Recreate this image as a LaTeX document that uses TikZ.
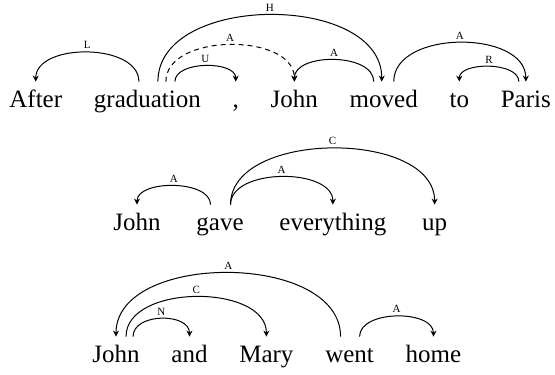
\documentclass[tikz,border=0pt]{standalone}
\usepackage{fontspec}
\setmainfont{Liberation Serif}
\usetikzlibrary{positioning, arrows.meta}

\begin{document}
\begin{tikzpicture}[node distance=15.5pt,
        word/.style={inner sep=0pt, text height=12.5pt, font=\fontsize{12.5}{15}\selectfont},
        dep/.style={-{Stealth[length=3pt, width=3pt]}, line width=0.5pt},
        lab/.style={font=\fontsize{5.5}{6}\selectfont, inner sep=1.5pt, above}]
        \useasboundingbox (0,0) rectangle (277.5pt,-187pt);

        % first sentence
        \node[word, anchor=base west] (a1) at (4.5pt,-53.5pt) {After};
        \node[word] (a2) [base right=of a1] {graduation};
        \node[word] (a3) [base right=of a2] {,};
        \node[word] (a4) [base right=of a3] {John};
        \node[word] (a5) [base right=of a4] {moved};
        \node[word] (a6) [base right=of a5] {to};
        \node[word] (a7) [base right=of a6] {Paris};

        \draw[dep] ([xshift=-4.25pt]a2.north) .. controls +(0,19.5pt) and +(0,19.5pt) .. (a1.north) node[lab, midway] {L};
        \draw[dep] ([xshift=5.25pt]a2.north) .. controls +(0,44.5pt) and +(0,44.5pt) .. ([xshift=-1pt]a5.north) node[lab, midway] {H};
        \draw[dep, dash pattern=on 2.5pt off 2pt] ([xshift=9.25pt]a2.north) .. controls +(0,24.5pt) and +(0,24.5pt) .. (a4.north) node[lab, midway] {A};
        \draw[dep] ([xshift=13.75pt]a2.north) .. controls +(0,10.5pt) and +(0,10.5pt) .. (a3.north) node[lab, midway] {U};
        \draw[dep] ([xshift=-5pt]a5.north) .. controls +(0,14.5pt) and +(0,14.5pt) .. (a4.north) node[lab, midway] {A};
        \draw[dep] ([xshift=5pt]a5.north) .. controls +(0,26pt) and +(0,26pt) .. (a7.north) node[lab, midway] {A};
        \draw[dep] ([xshift=-3.5pt]a7.north) .. controls +(0,10pt) and +(0,10pt) .. (a6.north) node[lab, midway] {R};

        % second sentence
        \begin{scope}[node distance=17.5pt]
        \node[word, anchor=base west] (b1) at (56.5pt,-115pt) {John};
        \node[word] (b2) [base right=of b1] {gave};
        \node[word] (b3) [base right=of b2] {everything};
        \node[word] (b4) [base right=of b3] {up};
        \end{scope}

        \draw[dep] ([xshift=-4.75pt]b2.north) .. controls +(0,12.5pt) and +(0,12.5pt) .. (b1.north) node[lab, midway] {A};
        \draw[dep] ([xshift=5.25pt]b2.north) .. controls +(0,18.5pt) and +(0,18.5pt) .. (b3.north) node[lab, midway] {A};
        \draw[dep] ([xshift=5.25pt]b2.north) .. controls +(0,37.5pt) and +(0,37.5pt) .. (b4.north) node[lab, midway] {C};

        % third sentence
        \node[word, anchor=base west] (c1) at (46pt,-181pt) {John};
        \node[word] (c2) [base right=of c1] {and};
        \node[word] (c3) [base right=of c2] {Mary};
        \node[word] (c4) [base right=of c3] {went};
        \node[word] (c5) [base right=of c4] {home};

        \draw[dep] ([xshift=-4.5pt]c4.north) .. controls +(0,42.5pt) and +(0,42.5pt) .. (c1.north) node[lab, midway] {A};
        \draw[dep] ([xshift=5pt]c1.north) .. controls +(0,26.5pt) and +(0,26.5pt) .. (c3.north) node[lab, midway] {C};
        \draw[dep] ([xshift=8.5pt]c1.north) .. controls +(0,12pt) and +(0,12pt) .. (c2.north) node[lab, midway] {N};
        \draw[dep] ([xshift=5pt]c4.north) .. controls +(0,13.5pt) and +(0,13.5pt) .. (c5.north) node[lab, midway] {A};
\end{tikzpicture}
\end{document}
